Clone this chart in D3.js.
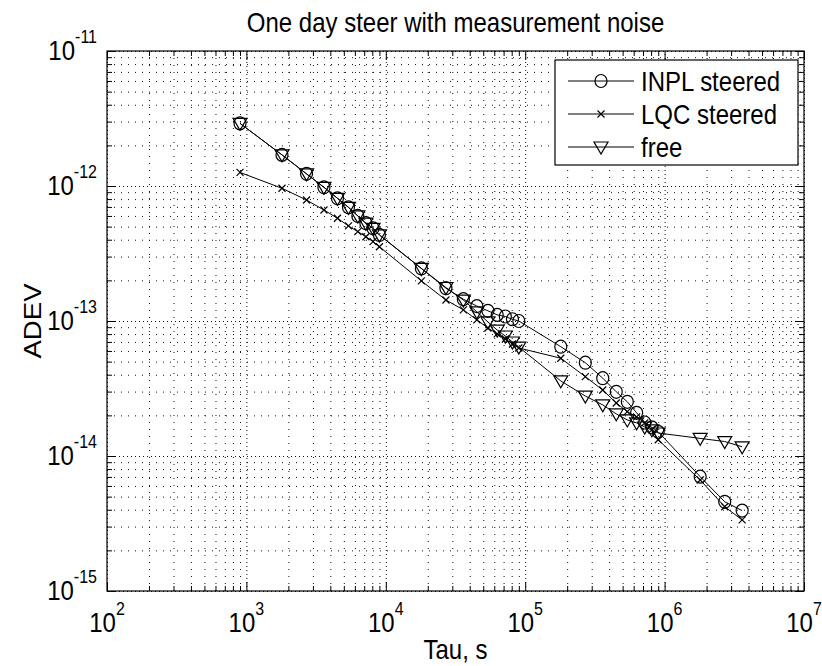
<!DOCTYPE html>
<html>
<head>
<meta charset="utf-8">
<script src="https://cdn.jsdelivr.net/npm/d3@7"></script>
<style>
  body { margin: 0; background: #fff; }
  svg { display: block; }
  text { font-family: Arial, "Liberation Sans", sans-serif; fill: #000; }
</style>
</head>
<body>
<div id="chart"></div>
<script>
const WIDTH = 822;
const HEIGHT = 666;
const X0 = 107, X1 = 804, Y0 = 51, Y1 = 591;
const STRETCH = 1.15; // text in the picture is a bit taller than wide

// averaging times, s
const tau = [900, 1800, 2700, 3600, 4500, 5400, 6300, 7200, 8100, 9000,
  18000, 27000, 36000, 45000, 54000, 63000, 72000, 81000, 90000,
  180000, 270000, 360000, 450000, 540000, 630000, 720000, 810000, 900000,
  1800000, 2700000, 3600000];

const inpl = [2.91e-12, 1.70e-12, 1.23e-12, 9.78e-13, 8.11e-13, 6.95e-13, 6.00e-13, 5.30e-13, 4.86e-13, 4.34e-13,
  2.45e-13, 1.75e-13, 1.45e-13, 1.29e-13, 1.19e-13, 1.11e-13, 1.08e-13, 1.03e-13, 1.00e-13,
  6.45e-14, 4.91e-14, 3.77e-14, 2.99e-14, 2.52e-14, 2.09e-14, 1.77e-14, 1.63e-14, 1.51e-14,
  7.03e-15, 4.58e-15, 3.94e-15];

const lqc = [1.26e-12, 9.62e-13, 7.87e-13, 6.64e-13, 5.77e-13, 5.06e-13, 4.59e-13, 4.21e-13, 3.87e-13, 3.55e-13,
  1.98e-13, 1.43e-13, 1.21e-13, 1.02e-13, 8.87e-14, 8.02e-14, 7.36e-14, 6.76e-14, 6.31e-14,
  5.30e-14, 3.87e-14, 3.08e-14, 2.47e-14, 2.13e-14, 1.95e-14, 1.76e-14, 1.56e-14, 1.32e-14,
  6.64e-15, 4.21e-15, 3.36e-15];

const free = [2.91e-12, 1.70e-12, 1.23e-12, 9.78e-13, 8.11e-13, 6.95e-13, 6.00e-13, 5.30e-13, 4.86e-13, 4.34e-13,
  2.45e-13, 1.77e-13, 1.43e-13, 1.17e-13, 9.84e-14, 8.57e-14, 7.74e-14, 6.99e-14, 6.41e-14,
  3.60e-14, 2.78e-14, 2.39e-14, 2.05e-14, 1.85e-14, 1.76e-14, 1.64e-14, 1.56e-14, 1.48e-14,
  1.35e-14, 1.28e-14, 1.17e-14];

const xMajor = [1e2, 1e3, 1e4, 1e5, 1e6, 1e7];
const xExp = ["2", "3", "4", "5", "6", "7"];
const yMajor = [1e-15, 1e-14, 1e-13, 1e-12, 1e-11];
const yExp = ["-15", "-14", "-13", "-12", "-11"];
const seriesNames = ["INPL steered", "LQC steered", "free"];

const minorOf = majors => {
  const out = [];
  majors.slice(0, -1).forEach(d => { for (let m = 2; m <= 9; m++) out.push(m * d); });
  return out;
};
const xMinor = minorOf(xMajor);
const yMinor = minorOf(yMajor);

const svg = d3.select("#chart").append("svg")
  .attr("width", WIDTH)
  .attr("height", HEIGHT);

const x = d3.scaleLog().domain([1e2, 1e7]).range([X0, X1]);
const y = d3.scaleLog().domain([1e-15, 1e-11]).range([Y1, Y0]);

// dotted grid
function grid(axis, values, pos, size, dash) {
  svg.append("g")
    .attr("transform", pos)
    .call(axis.tickValues(values).tickSize(size).tickSizeOuter(0).tickFormat(""))
    .call(g => g.select(".domain").remove())
    .selectAll("line")
    .attr("stroke", "#111")
    .attr("stroke-width", 1)
    .attr("stroke-dasharray", dash);
}
grid(d3.axisBottom(x), xMinor, `translate(0,${Y1})`, -(Y1 - Y0), "1,6");
grid(d3.axisBottom(x), xMajor, `translate(0,${Y1})`, -(Y1 - Y0), "1,3");
grid(d3.axisLeft(y), yMinor, `translate(${X0},0)`, -(X1 - X0), "1,6");
grid(d3.axisLeft(y), yMajor, `translate(${X0},0)`, -(X1 - X0), "1,3");

// inside ticks on all four sides
const sides = [
  [() => d3.axisBottom(x), `translate(0,${Y1})`, xMajor, xMinor],
  [() => d3.axisTop(x), `translate(0,${Y0})`, xMajor, xMinor],
  [() => d3.axisLeft(y), `translate(${X0},0)`, yMajor, yMinor],
  [() => d3.axisRight(y), `translate(${X1},0)`, yMajor, yMinor]
];
sides.forEach(([mk, pos, major, minor]) => {
  [[major, 9], [minor, 5]].forEach(([vals, len]) => {
    svg.append("g")
      .attr("transform", pos)
      .call(mk().tickValues(vals).tickSize(-len).tickSizeOuter(0).tickFormat(""))
      .call(g => g.select(".domain").remove())
      .selectAll("line")
      .attr("stroke", "#000");
  });
});

svg.append("rect")
  .attr("x", X0).attr("y", Y0)
  .attr("width", X1 - X0).attr("height", Y1 - Y0)
  .attr("fill", "none")
  .attr("stroke", "#000")
  .attr("stroke-width", 1.2);

// text helper
function label(px, py, str, size, anchor, rot) {
  const t = svg.append("text")
    .attr("transform", rot
      ? `translate(${px},${py}) rotate(-90) scale(${STRETCH},1)`
      : `translate(${px},${py}) scale(1,${STRETCH})`)
    .attr("text-anchor", anchor)
    .style("font-size", size + "px");
  if (str !== null) t.text(str);
  return t;
}
function powLabel(px, py, exp, anchor) {
  const t = label(px, py, null, 24, anchor);
  t.append("tspan").text("10");
  t.append("tspan").attr("dy", -15).style("font-size", "16px").text(exp);
}

xMajor.forEach((v, i) => powLabel(x(v), 632, xExp[i], "middle"));
yMajor.forEach((v, i) => powLabel(97, y(v) + 9, yExp[i], "end"));

label((X0 + X1) / 2, 32, "One day steer with measurement noise", 24, "middle");
label((X0 + X1) / 2, 659, "Tau, s", 24, "middle");
label(41, (Y0 + Y1) / 2, "ADEV", 24, "middle", true);

// series
const line = d3.line().x(d => x(d[0])).y(d => y(d[1]));
const pts = vals => tau.map((t, i) => [t, vals[i]]);

function marker(g, kind, cx, cy) {
  if (kind === "o") {
    g.append("ellipse").attr("cx", cx).attr("cy", cy).attr("rx", 6).attr("ry", 6.5);
  } else if (kind === "x") {
    g.append("path").attr("d", `M${cx - 3.5},${cy - 3.5}L${cx + 3.5},${cy + 3.5}M${cx - 3.5},${cy + 3.5}L${cx + 3.5},${cy - 3.5}`);
  } else {
    g.append("path").attr("d", `M${cx - 7},${cy - 5}L${cx + 7},${cy - 5}L${cx},${cy + 7}Z`);
  }
}

const series = [[inpl, "o"], [lqc, "x"], [free, "v"]];
series.forEach(([vals, kind]) => {
  svg.append("path")
    .datum(pts(vals))
    .attr("d", line)
    .attr("fill", "none")
    .attr("stroke", "#000")
    .attr("stroke-width", 1);
  const g = svg.append("g").attr("fill", "none").attr("stroke", "#000").attr("stroke-width", 1.2);
  pts(vals).forEach(d => marker(g, kind, x(d[0]), y(d[1])));
});

// legend
const LX0 = 555, LX1 = 798, LY0 = 60, ROW = 33;
svg.append("rect")
  .attr("x", LX0).attr("y", LY0)
  .attr("width", LX1 - LX0).attr("height", ROW * 3 + 6)
  .attr("fill", "#fff")
  .attr("stroke", "#000")
  .attr("stroke-width", 1.2);
seriesNames.forEach((name, i) => {
  const cy = LY0 + 21 + i * ROW;
  svg.append("line")
    .attr("x1", 568).attr("x2", 634).attr("y1", cy).attr("y2", cy)
    .attr("stroke", "#000");
  const g = svg.append("g").attr("fill", "none").attr("stroke", "#000").attr("stroke-width", 1.2);
  marker(g, series[i][1], 601, cy);
  label(641, cy + 10, name, 24, "start");
});
</script>
</body>
</html>
